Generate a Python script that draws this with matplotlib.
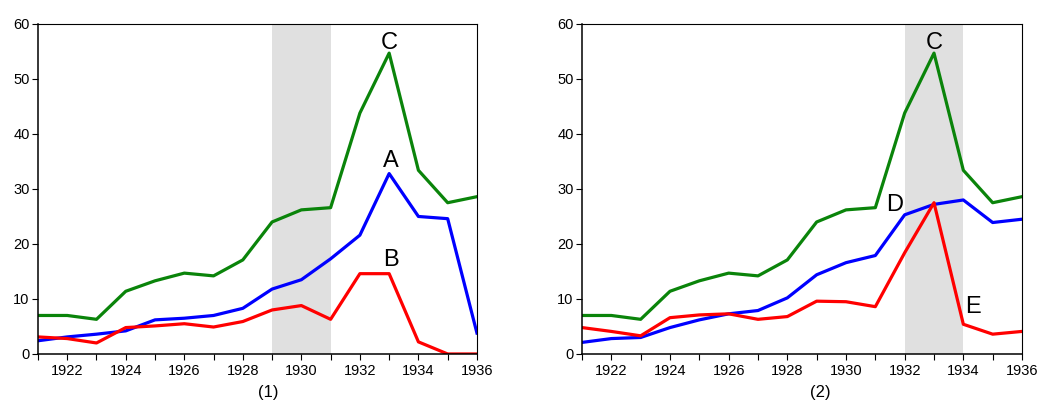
import numpy as np
import matplotlib.pyplot as plt
from matplotlib.ticker import MultipleLocator

plt.rcParams['font.family'] = ['Liberation Sans', 'DejaVu Sans']

# Data.
years = np.arange(1921, 1937)
series_c = [7.0, 7.0, 6.3, 11.4, 13.3, 14.7, 14.2, 17.1, 24.0, 26.2, 26.6, 43.8, 54.7, 33.4, 27.5, 28.6]
series_a = [2.4, 3.1, 3.6, 4.2, 6.2, 6.5, 7.0, 8.3, 11.8, 13.5, 17.3, 21.6, 32.8, 25.0, 24.6, 3.8]
series_b = [3.1, 2.8, 2.0, 4.8, 5.1, 5.5, 4.9, 5.9, 8.0, 8.8, 6.3, 14.6, 14.6, 2.2, 0.0, 0.0]
series_d = [2.1, 2.8, 3.0, 4.8, 6.2, 7.3, 7.9, 10.2, 14.4, 16.6, 17.9, 25.3, 27.2, 28.0, 23.9, 24.5]
series_e = [4.8, 4.1, 3.3, 6.6, 7.1, 7.3, 6.3, 6.8, 9.6, 9.5, 8.6, 18.4, 27.5, 5.4, 3.6, 4.1]
shade_1 = (1929, 1931)
shade_2 = (1932, 1934)

green = '#0a840a'
blue = '#0000ff'
red = '#ff0000'
lw = 2.3

fig = plt.figure(figsize=(10.4, 4.05), dpi=100)
ax1 = fig.add_axes([0.0365, 0.126, 0.4221, 0.8148])
ax2 = fig.add_axes([0.5596, 0.126, 0.4231, 0.8148])


def style(ax):
    ax.set_xlim(1921, 1936)
    ax.set_ylim(0, 60)
    ax.xaxis.set_major_locator(MultipleLocator(2))
    ax.xaxis.set_minor_locator(MultipleLocator(1))
    ax.yaxis.set_major_locator(MultipleLocator(10))
    ax.tick_params(axis='both', which='both', direction='out', length=4,
                   width=0.8, labelsize=10.5, top=False, right=False)
    ax.tick_params(axis='x', pad=3)
    ax.tick_params(axis='y', pad=2)
    for s in ax.spines.values():
        s.set_linewidth(0.8)
    ax.spines['left'].set_linewidth(1.1)
    ax.spines['bottom'].set_linewidth(1.1)


# Panel (1)
ax1.axvspan(*shade_1, color='#e0e0e0', lw=0)
ax1.plot(years, series_c, color=green, lw=lw)
ax1.plot(years, series_a, color=blue, lw=lw)
ax1.plot(years, series_b, color=red, lw=lw)
ax1.text(1933, 55.4, 'C', fontsize=17, ha='center', va='baseline')
ax1.text(1933.05, 34.0, 'A', fontsize=17, ha='center', va='baseline')
ax1.text(1933.05, 16.0, 'B', fontsize=17, ha='center', va='baseline')
style(ax1)

# Panel (2)
ax2.axvspan(*shade_2, color='#e0e0e0', lw=0)
ax2.plot(years, series_c, color=green, lw=lw)
ax2.plot(years, series_d, color=blue, lw=lw)
ax2.plot(years, series_e, color=red, lw=lw)
ax2.text(1933, 55.4, 'C', fontsize=17, ha='center', va='baseline')
ax2.text(1931.67, 26.0, 'D', fontsize=17, ha='center', va='baseline')
ax2.text(1934.33, 7.5, 'E', fontsize=17, ha='center', va='baseline')
style(ax2)

fig.text(268 / 1040, 1 - 393 / 405, '(1)', fontsize=12, ha='center', va='center')
fig.text(820 / 1040, 1 - 393 / 405, '(2)', fontsize=12, ha='center', va='center')

fig.savefig('out.png', dpi=100)
